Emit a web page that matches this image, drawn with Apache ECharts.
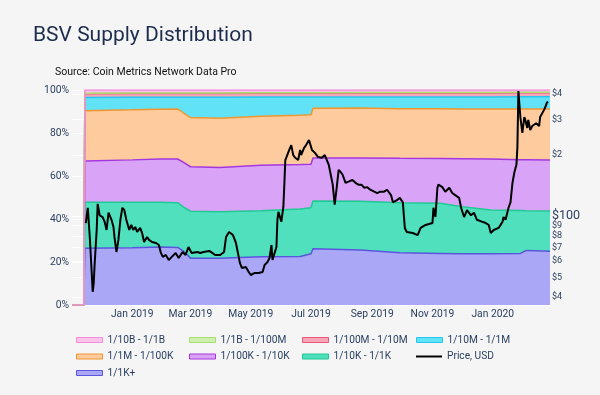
<!DOCTYPE html>
<html><head><meta charset="utf-8">
<script src="https://cdn.jsdelivr.net/npm/echarts@6/dist/echarts.min.js"></script>
<style>html,body{margin:0;padding:0;background:#f5f5f5}#c{width:600px;height:395px}</style>
</head><body><div id="c"></div>
<script>
// ---------- data ----------
const layerDates = ['2018-11-01','2018-11-13','2018-11-14','2019-01-01','2019-01-29','2019-02-16','2019-02-22','2019-03-01','2019-03-31','2019-05-11','2019-06-20','2019-07-01','2019-07-03','2019-08-20','2019-09-29','2019-11-09','2019-11-29','2019-12-30','2020-01-29','2020-02-04','2020-02-28'];
// share of supply (%) per holder band
const share1Kplus      = [0,0,26.4,26.6,27.0,26.8,25.0,21.8,21.7,22.4,22.6,23.8,26.2,25.6,24.3,24.0,23.8,23.8,24.0,25.4,25.0];
const share10Kto1K     = [0,0,21.4,21.2,20.8,20.8,20.5,21.8,21.7,21.4,22.0,21.4,22.2,22.6,23.3,23.3,22.0,20.4,19.9,18.4,18.7];
const share100Kto10K   = [0,0,19.2,19.7,20.1,20.3,20.8,20.7,20.6,21.2,20.7,20.3,20.0,20.2,20.6,20.8,22.2,23.7,23.7,23.8,23.7];
const share1Mto100K    = [0,0,23.3,23.3,23.2,23.3,23.0,22.9,22.9,22.8,23.0,23.0,23.1,23.2,23.1,23.2,23.2,23.3,23.6,23.6,23.8];
const share10Mto1M     = [0,0,6.2,5.8,5.5,5.4,7.3,9.4,9.7,8.9,8.4,8.2,5.3,5.2,5.5,5.5,5.6,5.6,5.7,5.7,5.7];
const share100Mto10M   = [0,0,1.8,1.8,1.8,1.8,1.8,1.8,1.8,1.8,1.8,1.8,1.8,1.8,1.8,1.8,1.8,1.8,1.8,1.8,1.8];
const share1Bto100M    = [0,0,0.2,0.2,0.2,0.2,0.2,0.2,0.2,0.2,0.2,0.2,0.2,0.2,0.2,0.2,0.2,0.2,0.2,0.2,0.2];
const share10Bto1B     = [0,0,1.5,1.4,1.4,1.4,1.4,1.4,1.4,1.3,1.3,1.3,1.2,1.2,1.2,1.2,1.2,1.2,1.1,1.1,1.1];

const priceDates = ['2018-11-15','2018-11-17','2018-11-19','2018-11-22','2018-11-23','2018-11-24','2018-11-26','2018-11-27','2018-11-29','2018-12-02','2018-12-04','2018-12-06','2018-12-08','2018-12-11','2018-12-13','2018-12-14','2018-12-16','2018-12-18','2018-12-20','2018-12-22','2018-12-24','2018-12-26','2018-12-29','2018-12-31',
'2019-01-02','2019-01-04','2019-01-06','2019-01-09','2019-01-11','2019-01-13','2019-01-16','2019-01-18','2019-01-21','2019-01-25','2019-01-28','2019-01-30','2019-02-01','2019-02-04','2019-02-07','2019-02-10','2019-02-14','2019-02-17','2019-02-21','2019-02-24','2019-02-27',
'2019-03-02','2019-03-04','2019-03-08','2019-03-11','2019-03-14','2019-03-20','2019-03-23','2019-03-26','2019-03-31','2019-04-04','2019-04-06','2019-04-09','2019-04-11','2019-04-13','2019-04-16','2019-04-18','2019-04-20','2019-04-22','2019-04-26','2019-04-29',
'2019-05-01','2019-05-05','2019-05-09','2019-05-13','2019-05-15','2019-05-18','2019-05-20','2019-05-22','2019-05-23','2019-05-25','2019-05-27','2019-05-28','2019-05-29','2019-05-31','2019-06-01','2019-06-03','2019-06-04','2019-06-05','2019-06-07','2019-06-09','2019-06-11','2019-06-13','2019-06-15','2019-06-18','2019-06-20','2019-06-21','2019-06-24','2019-06-26','2019-06-29',
'2019-07-01','2019-07-02','2019-07-05','2019-07-08','2019-07-12','2019-07-15','2019-07-17','2019-07-19','2019-07-21','2019-07-23','2019-07-25','2019-07-27','2019-07-29','2019-07-31','2019-08-02','2019-08-05','2019-08-08','2019-08-12','2019-08-15','2019-08-18','2019-08-21','2019-08-24','2019-08-27','2019-08-30',
'2019-09-03','2019-09-06','2019-09-09','2019-09-13','2019-09-16','2019-09-20','2019-09-22','2019-09-26','2019-09-29','2019-10-02','2019-10-04','2019-10-06','2019-10-12','2019-10-17','2019-10-20','2019-10-25','2019-11-01','2019-11-02','2019-11-04','2019-11-06','2019-11-07','2019-11-11','2019-11-14','2019-11-18','2019-11-21','2019-11-24','2019-11-28','2019-11-30',
'2019-12-03','2019-12-06','2019-12-10','2019-12-13','2019-12-16','2019-12-21','2019-12-25','2019-12-28','2019-12-30','2020-01-02','2020-01-07','2020-01-11','2020-01-12','2020-01-14','2020-01-17','2020-01-19','2020-01-21','2020-01-23','2020-01-25','2020-01-26','2020-01-27','2020-01-29','2020-01-31',
'2020-02-02','2020-02-03','2020-02-05','2020-02-06','2020-02-08','2020-02-10','2020-02-12','2020-02-14','2020-02-17','2020-02-18','2020-02-20','2020-02-22','2020-02-24','2020-02-25','2020-02-26','2020-02-28'];
const priceUSD = [92.5,110,79,42.4,46.9,58.9,85.5,115,101,99,94,85.5,104,96,88.5,79,66.6,76.4,96,110,107,96,85.5,90.5,
85.5,88.5,83.6,87.5,82.6,74.6,79,76.4,74.6,73.8,72.1,65.9,63,64.4,60.8,63,65.9,62.2,66.6,64.4,70.5,
65.9,65.9,66.6,65.9,66.6,67.4,65.9,64.4,64.4,66.6,79,83.6,85.5,80.7,73.8,65.9,58.9,55.6,56.2,53.1,
51.3,52.5,52.5,53.1,57.5,59.5,62.2,72.1,60.8,59.5,70.5,96,105,104,94,111,143,189,189,212,224,200,194,189,212,200,217,224,237,
232,212,205,196,194,200,200,179,160,143,114,138,169,165,160,146,148,151,146,143,143,138,139,135,
132,130,132,132,135,127,117,120,123,117,87.5,83.6,82.6,80.7,87.5,90.5,92.5,110,99,138,143,139,132,138,130,127,123,110,
99,107,101,104,96,94,92.5,90.5,82.6,85.5,87.5,94,99,96,110,117,146,165,179,219,414,308,
257,308,298,272,298,266,278,281,287,278,308,315,334,352,365,361];

const monthTicks = ['2019-01-01','2019-03-01','2019-05-01','2019-07-01','2019-09-01','2019-11-01','2020-01-01'];
const xStart = '2018-11-01', xEnd = '2020-02-28';
const priceTicks = [40,50,60,70,80,90,100,200,300,400];
const priceMin = 36.5, priceMax = 418.5;

// ---------- helpers / styles ----------
const ts = d => Date.parse(d + 'T00:00:00Z');
const MONTHS = ['Jan','Feb','Mar','Apr','May','Jun','Jul','Aug','Sep','Oct','Nov','Dec'];

const bands = [
  {name:'1/1K+', data:share1Kplus, line:'#5a55dc', fill:'#aaa7f6'},
  {name:'1/10K - 1/1K', data:share10Kto1K, line:'#1fc993', fill:'#50e0bd'},
  {name:'1/100K - 1/10K', data:share100Kto10K, line:'#a436e0', fill:'#d9a4f7'},
  {name:'1/1M - 1/100K', data:share1Mto100K, line:'#f0962f', fill:'#fdcb9d'},
  {name:'1/10M - 1/1M', data:share10Mto1M, line:'#26c6ef', fill:'#62e2f6'},
  {name:'1/100M - 1/10M', data:share100Mto10M, line:'#f0557a', fill:'#f6a6b9'},
  {name:'1/1B - 1/100M', data:share1Bto100M, line:'#a8df6e', fill:'#cdefb0'},
  {name:'1/10B - 1/1B', data:share10Bto1B, line:'#f58ad8', fill:'#f8c4ea'}
];
const textColor = '#2a3f5f';
const font = 'Roboto';

// value first so that the stack is computed on the y (share) dimension
const series = bands.map(b => ({
  name: b.name, type: 'line', stack: 'supply', symbol: 'none', showSymbol: false,
  xAxisIndex: 0, yAxisIndex: 0,
  data: layerDates.map((d, i) => [b.data[i], ts(d)]),
  encode: {x: 1, y: 0},
  lineStyle: {color: b.line, width: 1.5},
  itemStyle: {color: b.line},
  areaStyle: {color: b.fill, opacity: 1},
  emphasis: {disabled: true}, silent: true
}));
series.push({
  name: 'Price, USD', type: 'line', symbol: 'none', showSymbol: false,
  xAxisIndex: 0, yAxisIndex: 1,
  data: priceDates.map((d, i) => [ts(d), priceUSD[i]]),
  lineStyle: {color: '#000', width: 2}, itemStyle: {color: '#000'},
  z: 5, emphasis: {disabled: true}, silent: true
});

const legendLayout = [
  ['1/10B - 1/1B',0,0],['1/1B - 1/100M',1,0],['1/100M - 1/10M',2,0],['1/10M - 1/1M',3,0],
  ['1/1M - 1/100K',0,1],['1/100K - 1/10K',1,1],['1/10K - 1/1K',2,1],['Price, USD',3,1],
  ['1/1K+',0,2]
];
const colX = [76, 189, 302, 416], rowY = [341, 357.5, 374];
const legends = legendLayout.map(([name, c, r]) => {
  const b = bands.find(x => x.name === name);
  const item = b
    ? {name, icon: 'rect', itemStyle: {color: b.fill, borderColor: b.line, borderWidth: 1}}
    : {name, icon: 'rect', itemStyle: {color: '#000', borderWidth: 0}};
  return {
    left: colX[c], top: rowY[r] - 6, padding: 0, itemGap: 0,
    itemWidth: 26, itemHeight: b ? 5 : 2, selectedMode: false,
    data: [item],
    textStyle: {fontSize: 10.2, color: textColor, fontFamily: font}
  };
});

const chart = echarts.init(document.getElementById('c'), null, {renderer: 'canvas'});
chart.setOption({
  backgroundColor: '#f5f5f5',
  animation: false,
  title: [
    {text: 'BSV Supply Distribution', left: 33, top: 25, padding: 0,
     textStyle: {fontSize: 21, fontWeight: 'normal', color: '#1d2c4c', fontFamily: font}},
    {text: 'Source: Coin Metrics Network Data Pro', left: 55, top: 67, padding: 0,
     textStyle: {fontSize: 10.5, fontWeight: 'normal', color: '#111', fontFamily: font}}
  ],
  legend: legends,
  grid: {left: 72, right: 50, top: 90, bottom: 90, containLabel: false},
  xAxis: [{
    type: 'value', min: ts(xStart), max: ts(xEnd),
    axisLine: {show: false}, axisTick: {show: false}, splitLine: {show: false},
    axisLabel: {
      customValues: monthTicks.map(ts),
      margin: 4, fontSize: 10.3, color: textColor, fontFamily: font,
      formatter: v => {
        const d = new Date(v);
        return MONTHS[d.getUTCMonth()] + ' ' + d.getUTCFullYear();
      }
    }
  }],
  yAxis: [
    {type: 'value', min: 0, max: 100, interval: 20, position: 'left',
     axisLine: {show: false}, axisTick: {show: false},
     splitLine: {show: true, lineStyle: {color: '#ffffff', width: 1}},
     axisLabel: {formatter: '{value}%', margin: 3, fontSize: 10.3, color: textColor, fontFamily: font}},
    {type: 'log', min: priceMin, max: priceMax, position: 'right', show: false,
     splitLine: {show: false}},
    {type: 'value', min: Math.log10(priceMin), max: Math.log10(priceMax), position: 'right',
     axisLine: {show: false},
     axisTick: {show: false, customValues: priceTicks.map(Math.log10)},
     splitLine: {show: true, lineStyle: {color: '#ffffff', width: 1}},
     axisLabel: {
       customValues: priceTicks.map(Math.log10), margin: 2, fontSize: 9, color: textColor, fontFamily: font,
       formatter: v => {
         const p = Math.round(Math.pow(10, v));
         return p === 100 ? '{big|$100}' : '$' + String(p)[0];
       },
       rich: {big: {fontSize: 12.5, color: textColor, fontFamily: font}}
     }}
  ],
  series
});
</script>
</body></html>
